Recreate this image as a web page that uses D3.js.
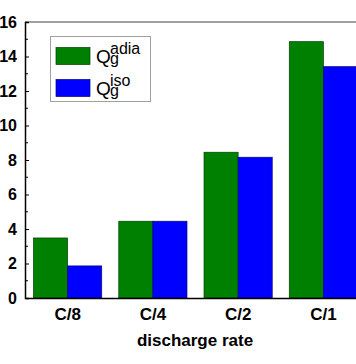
<!DOCTYPE html>
<html><head><meta charset="utf-8">
<script src="https://cdn.jsdelivr.net/npm/d3@7"></script>
<style>body{margin:0;background:#fff}svg{display:block}</style>
</head><body>
<script>
const categories = ["C/8", "C/4", "C/2", "C/1"];
const seriesNames = ["adia", "iso"];
const adiaValues = [3.48, 4.45, 8.45, 14.86];
const isoValues = [1.86, 4.45, 8.16, 13.41];
const yTicks = [0, 2, 4, 6, 8, 10, 12, 14, 16];
const colors = ["#008000", "#0000FF"];

(function () {
const W = 356, H = 364;
const svg = d3.select("body").append("svg").attr("width", W).attr("height", H);
const mL = 25, mR = 366, mT = 22, mB = 298;

const x = d3.scaleBand().domain(categories).range([mL, mR]).paddingInner(0.2).paddingOuter(0.1);
const xs = d3.scaleBand().domain(seriesNames).range([0, x.bandwidth()]);
const y = d3.scaleLinear().domain([0, 16]).range([mB, mT]);

const data = categories.map((c, i) => ({c, vals: [adiaValues[i], isoValues[i]]}));
const g = svg.append("g");
data.forEach(d => {
  d.vals.forEach((v, j) => {
    g.append("rect")
      .attr("x", x(d.c) + xs(seriesNames[j]))
      .attr("y", y(v))
      .attr("width", xs.bandwidth())
      .attr("height", y(0) - y(v))
      .attr("fill", colors[j])
      .attr("stroke", j === 0 ? "#003f00" : "#00007f")
      .attr("stroke-width", 0.7);
  });
});

svg.append("line").attr("x1", mL).attr("x2", W).attr("y1", mT).attr("y2", mT)
  .attr("stroke", "#808080").attr("stroke-width", 1.5);

const yAxis = d3.axisLeft(y).tickValues(yTicks).tickSize(-4).tickPadding(8).tickFormat(d3.format("d"));
const ya = svg.append("g").attr("transform", `translate(${mL},0)`).call(yAxis);
ya.select(".domain").attr("stroke", "#000").attr("stroke-width", 1.5);
ya.selectAll(".tick line").attr("stroke", "#000").attr("stroke-width", 1);
ya.selectAll(".tick text").attr("font-family", "Liberation Sans, Arial, sans-serif")
  .attr("font-weight", "bold").attr("font-size", 16).attr("fill", "#000");
const minor = d3.range(1, 16, 2);
svg.append("g").selectAll("line").data(minor).join("line")
  .attr("x1", mL).attr("x2", mL + 3).attr("y1", d => y(d)).attr("y2", d => y(d))
  .attr("stroke", "#000").attr("stroke-width", 1);

const xAxis = d3.axisBottom(x).tickSize(0).tickPadding(10);
const xa = svg.append("g").attr("transform", `translate(0,${mB})`).call(xAxis);
xa.select(".domain").attr("stroke", "#000").attr("stroke-width", 1.5);
xa.selectAll(".tick text").attr("font-family", "Liberation Sans, Arial, sans-serif")
  .attr("font-weight", "bold").attr("font-size", 17).attr("fill", "#000");

svg.append("text").attr("x", 195).attr("y", 346).attr("text-anchor", "middle")
  .attr("font-family", "Liberation Sans, Arial, sans-serif").attr("font-weight", "bold")
  .attr("font-size", 17).text("discharge rate");

const lg = svg.append("g");
lg.append("rect").attr("x", 50.5).attr("y", 36.5).attr("width", 100).attr("height", 65)
  .attr("fill", "#fff").attr("stroke", "#a0a0a0").attr("stroke-width", 1);
seriesNames.forEach((s, i) => {
  const cy = 56 + i * 32;
  lg.append("rect").attr("x", 56).attr("y", cy - 8.5).attr("width", 34).attr("height", 17)
    .attr("fill", colors[i]).attr("stroke", i === 0 ? "#003f00" : "#00007f").attr("stroke-width", 0.7);
  const t = lg.append("text").attr("font-family", "Liberation Sans, Arial, sans-serif").attr("fill", "#000");
  t.append("tspan").attr("x", 96).attr("y", cy + 6.5).attr("font-size", 19).text("Q");
  t.append("tspan").attr("x", 110).attr("y", cy + 8).attr("font-size", 16).text("g");
  t.append("tspan").attr("x", 110).attr("y", cy - 2).attr("font-size", 16).text(s);
});
})();
</script>
</body></html>
